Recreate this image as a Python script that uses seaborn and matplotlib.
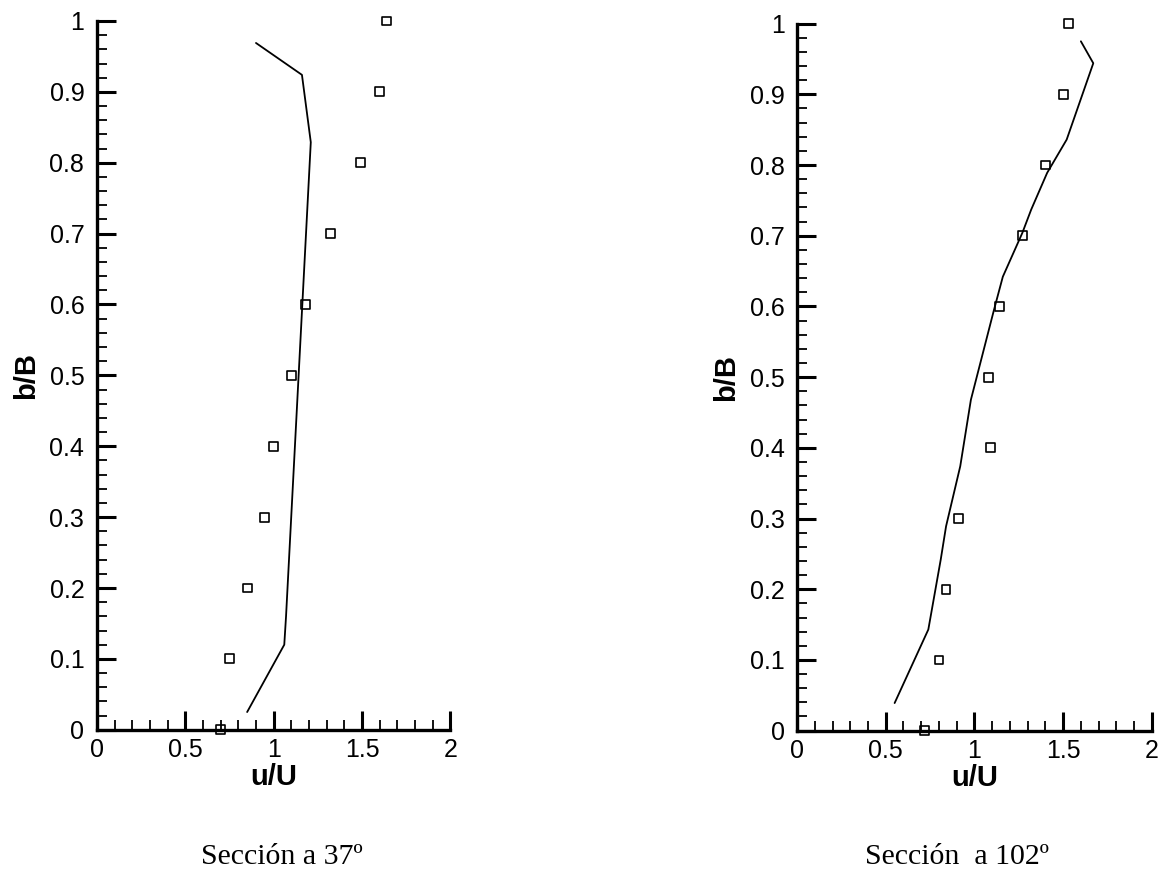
import numpy as np
import pandas as pd
import matplotlib
matplotlib.use("Agg")
import matplotlib.pyplot as plt
import seaborn as sns
from matplotlib.ticker import MultipleLocator

# --- data -------------------------------------------------------------
# Panel 1: Sección a 37º
meas37_u = [0.70, 0.75, 0.85, 0.95, 1.00, 1.10, 1.18, 1.32, 1.49, 1.60, 1.64]
meas37_b = [0.0, 0.1, 0.2, 0.3, 0.4, 0.5, 0.6, 0.7, 0.8, 0.9, 1.0]
calc37_u = [0.85, 1.06, 1.07, 1.21, 1.16, 0.90]
calc37_b = [0.025, 0.12, 0.16, 0.829, 0.924, 0.969]

# Panel 2: Sección a 102º
meas102_u = [0.72, 0.80, 0.84, 0.91, 1.09, 1.08, 1.14, 1.27, 1.40, 1.50, 1.53]
meas102_b = [0.0, 0.1, 0.2, 0.3, 0.4, 0.5, 0.6, 0.7, 0.8, 0.9, 1.0]
calc102_u = [0.55, 0.74, 0.81, 0.84, 0.92, 0.98, 1.11, 1.16, 1.27, 1.32, 1.41, 1.52, 1.67, 1.60]
calc102_b = [0.039, 0.143, 0.242, 0.289, 0.374, 0.468, 0.595, 0.642, 0.704, 0.737, 0.789, 0.836, 0.944, 0.975]

captions = ["Sección a 37º", "Sección  a 102º"]
xlabel = "u/U"
ylabel = "b/B"
xtick_labels = ["0", "0.5", "1", "1.5", "2"]
ytick_labels = ["0", "0.1", "0.2", "0.3", "0.4", "0.5", "0.6", "0.7", "0.8", "0.9", "1"]

# --- style ------------------------------------------------------------
sns.set_style("ticks")
plt.rcParams["font.family"] = ["Liberation Sans", "DejaVu Sans"]
plt.rcParams["text.color"] = "black"
plt.rcParams["xtick.color"] = "black"
plt.rcParams["ytick.color"] = "black"
plt.rcParams["axes.labelcolor"] = "black"
plt.rcParams["axes.edgecolor"] = "black"

fig = plt.figure(figsize=(11.67, 8.75), dpi=100)
ax1 = fig.add_axes([0.083, 0.166, 0.303, 0.810])
ax2 = fig.add_axes([0.683, 0.165, 0.304, 0.808])

panels = [
    (ax1, meas37_u, meas37_b, calc37_u, calc37_b),
    (ax2, meas102_u, meas102_b, calc102_u, calc102_b),
]

for ax, mu, mb, cu, cb in panels:
    line_df = pd.DataFrame({"u": cu, "b": cb})
    sns.lineplot(data=line_df, x="u", y="b", sort=False, estimator=None,
                 color="black", linewidth=1.3, ax=ax)
    pts_df = pd.DataFrame({"u": mu, "b": mb})
    sns.scatterplot(data=pts_df, x="u", y="b", marker="s", s=40,
                    facecolor="none", edgecolor="black", linewidth=1.2,
                    ax=ax, clip_on=False, zorder=5)
    ax.set_xlim(0, 2)
    ax.set_ylim(0, 1)
    sns.despine(ax=ax)
    for s in ("left", "bottom"):
        ax.spines[s].set_linewidth(2.4)
    ax.xaxis.set_major_locator(MultipleLocator(0.5))
    ax.xaxis.set_minor_locator(MultipleLocator(0.1))
    ax.yaxis.set_major_locator(MultipleLocator(0.1))
    ax.yaxis.set_minor_locator(MultipleLocator(0.02))
    ax.tick_params(which="major", direction="in", length=14, width=2.2,
                   labelsize=18)
    ax.tick_params(axis="y", which="major", pad=9)
    ax.tick_params(axis="x", which="major", pad=6)
    ax.tick_params(which="minor", direction="in", length=7, width=1.3)
    ax.set_xticks([0, 0.5, 1, 1.5, 2])
    ax.set_xticklabels(xtick_labels)
    ax.set_yticks([0, 0.1, 0.2, 0.3, 0.4, 0.5, 0.6, 0.7, 0.8, 0.9, 1])
    ax.set_yticklabels(ytick_labels)
    ax.set_xlabel(xlabel, fontsize=21, fontweight="bold", labelpad=1)
    ax.set_ylabel(ylabel, fontsize=21, fontweight="bold", labelpad=7)

fig.text(0.2417, 0.021, captions[0], ha="center", va="center",
         fontsize=21.5, family=["Liberation Serif", "DejaVu Serif"])
fig.text(0.820, 0.021, captions[1], ha="center", va="center",
         fontsize=21.5, family=["Liberation Serif", "DejaVu Serif"])

fig.savefig("out.png", dpi=100)
